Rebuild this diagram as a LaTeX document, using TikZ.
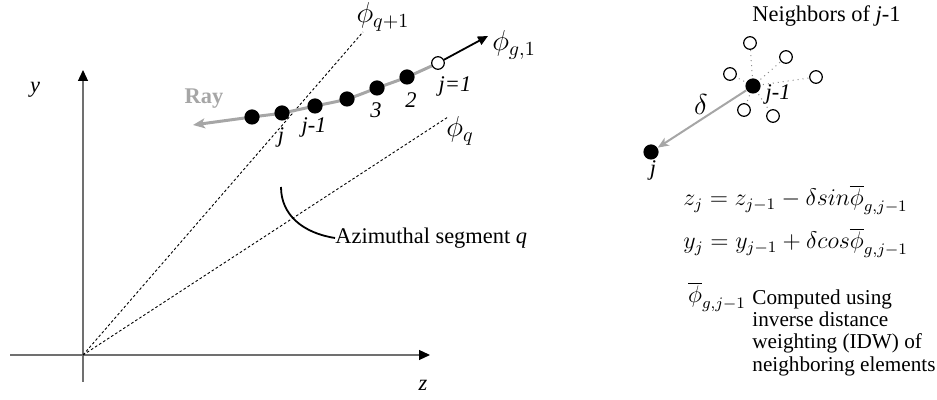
\documentclass[tikz,border=0pt]{standalone}
\usepackage{fontspec}
\setmainfont{Liberation Serif}
\usetikzlibrary{arrows.meta}
\definecolor{raygray}{HTML}{A6A6A6}
\definecolor{axgray}{HTML}{707070}
\begin{document}
\begin{tikzpicture}[x=0.5pt,y=-0.5pt,
  txt/.style={font=\fontsize{11.2}{11.4}\selectfont, inner sep=0},
  itxt/.style={font=\fontsize{11.2}{11.4}\selectfont\itshape, inner sep=0},
  mlab/.style={font=\fontsize{14}{16}\selectfont, inner sep=0},
  eqn/.style={font=\fontsize{11.7}{14}\selectfont, inner sep=0},
  bdot/.style={circle, fill=black, minimum size=7.6pt, inner sep=0},
  odot/.style={circle, draw=black, fill=white, line width=0.6pt, minimum size=6.3pt, inner sep=0},
  axisline/.style={draw=axgray, line width=0.6pt, -{Triangle[length=5.5pt,width=5pt,color=black]}},
  segline/.style={dash pattern=on 1.3pt off 1.1pt, line width=0.45pt},
  rayline/.style={draw=raygray, line width=1.5pt, -{Stealth[length=6pt,width=5pt,inset=1.5pt]}},
  dirarrow/.style={draw=black, line width=0.9pt, -{Triangle[length=5pt,width=4.5pt]}},
  steparrow/.style={draw=raygray, line width=1pt, -{Stealth[length=5.5pt,width=4.5pt,inset=1.5pt]}},
  nbline/.style={draw=black!45, dotted, line width=0.5pt}
]
\useasboundingbox (0,0) rectangle (937,400);

% ---- axes ----
\coordinate (O) at (83,355);
\coordinate (ybot) at (83,382);
\coordinate (ytop) at (83,70);
\coordinate (xleft) at (10,355);
\coordinate (xright) at (430,355);
\draw[axisline] (ybot) -- (ytop);
\draw[axisline] (xleft) -- (xright);
\node[itxt] (ylab) at (35,90) {y};
\node[itxt] (zlab) at (423,385) {z};

% ---- azimuthal segment boundaries ----
\coordinate (qp1) at (363,32);
\coordinate (q0) at (448,117);
\draw[segline] (O) -- (qp1);
\draw[segline] (O) -- (q0);
\node[mlab] (phiqp1) at (383,17) {$\phi_{q+1}$};
\node[mlab] (phiq) at (460,131) {$\phi_{q}$};

% ---- azimuthal segment label ----
\coordinate (arcA) at (281,187);
\node[txt, anchor=west] (azlab) at (335,238) {Azimuthal segment \textit{q}};
\draw[line width=0.9pt] (arcA) .. controls (281,215) and (303,233) .. (azlab.west);

% ---- ray ----
\coordinate (c0) at (438,63);
\coordinate (c1) at (407,77);
\coordinate (c2) at (377,88);
\coordinate (c3) at (347,99);
\coordinate (c4) at (315,106);
\coordinate (c5) at (282,113);
\coordinate (c6) at (252,117);
\coordinate (rayend) at (193,125);
\draw[rayline] plot[smooth, tension=0.5] coordinates {(c0) (c1) (c2) (c3) (c4) (c5) (c6) (rayend)};
\node[txt, font=\fontsize{11.2}{11.4}\selectfont\bfseries, text=raygray] (raylab) at (204,99) {Ray};

\node[bdot] (d1) at (c1) {};
\node[bdot] (d2) at (c2) {};
\node[bdot] (d3) at (c3) {};
\node[bdot] (d4) at (c4) {};
\node[bdot] (d5) at (c5) {};
\node[bdot] (d6) at (c6) {};
\node[odot] (d0) at (c0) {};

\coordinate (gtip) at (488,36);
\draw[dirarrow] (d0) -- (gtip);
\node[mlab] (phig) at (514,45) {$\phi_{g,1}$};

\node[itxt] (lj) at (281,137) {j};
\node[itxt] (ljm) at (314,127) {j-1};
\node[itxt] (l3) at (376,110) {3};
\node[itxt] (l2) at (411,100) {2};
\node[itxt] (l1) at (455,86) {j=1};

% ---- right panel: neighbours ----
\node[txt, anchor=west] (nbtitle) at (752,16) {Neighbors of \textit{j}-1};
\coordinate (cc) at (753,86);
\node[odot] (n1) at (750,43) {};
\node[odot] (n2) at (786,57) {};
\node[odot] (n3) at (730,74) {};
\node[odot] (n4) at (816,77) {};
\node[odot] (n5) at (744,110) {};
\node[odot] (n6) at (773,116) {};
\foreach \n in {n1,n2,n3,n4,n5,n6} \draw[nbline] (cc) -- (\n);
\node[bdot] (cj) at (cc) {};
\node[itxt] (cjlab) at (778,94) {j-1};

\node[bdot] (pj) at (651,152) {};
\node[itxt] (pjlab) at (653,170) {j};
\draw[steparrow] (cj) -- (pj);
\node[mlab] (dlab) at (701,105) {$\delta$};

% ---- formulas ----
\node[eqn, anchor=west] (eq1) at (683,200) {$z_j = z_{j-1} - \delta sin\overline{\phi}_{g,j-1}$};
\node[eqn, anchor=west] (eq2) at (683,243) {$y_j = y_{j-1} + \delta cos\overline{\phi}_{g,j-1}$};

\node[eqn] (phibar) at (717,297) {$\overline{\phi}_{g,j-1}$};
\node[txt, font=\fontsize{10.6}{11.2}\selectfont, anchor=north west, align=left] (idw) at (752,289) {Computed using\\inverse distance\\weighting (IDW) of\\neighboring elements};
\end{tikzpicture}
\end{document}
